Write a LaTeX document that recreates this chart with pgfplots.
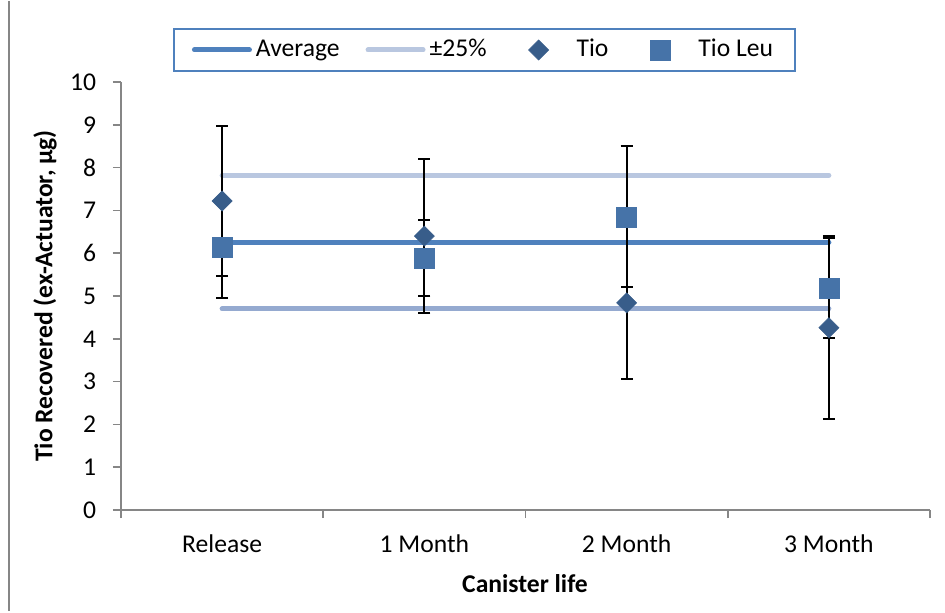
\documentclass[border=0pt]{standalone}
\usepackage{pgfplots}
\pgfplotsset{compat=1.18}
\usepackage{fontspec}
\setmainfont{Carlito}
\definecolor{avgc}{RGB}{79,129,189}
\definecolor{upc}{RGB}{185,199,224}
\definecolor{loc}{RGB}{149,170,208}
\definecolor{tioc}{RGB}{56,93,138}
\definecolor{leuc}{RGB}{70,115,168}
\definecolor{axc}{RGB}{134,134,134}
\newcommand{\cf}{\fontsize{12.8}{15.4}\selectfont}
\pgfplotsset{markleg/.style={legend image code/.code={\path[draw=none] (0pt,0pt) -- (30pt,0pt);\draw[##1, only marks] plot coordinates {(13pt,0pt)};}}}
\begin{document}
\cf
\begin{tikzpicture}
\path (-60.5pt,-50.5pt) rectangle (412pt,254.5pt);
\draw[axc, line width=1pt] (-56pt,-50.5pt) -- (-56pt,254.5pt);
\begin{axis}[
  name=ax,
  scale only axis,
  width=404.5pt, height=214pt,
  xmin=0, xmax=4, ymin=0, ymax=10,
  axis x line*=bottom, axis y line*=left,
  axis line style={axc, line width=0.8pt, -},
  every tick/.style={axc, line width=0.8pt},
  tick align=outside,
  major tick length=4pt,
  xtick={0,1,2,3,4},
  xticklabels={Release,1 Month,2 Month,3 Month},
  x tick label as interval,
  ytick={0,1,...,10},
  /pgf/number format/assume math mode=true,
  tick label style={font=\cf, black},
  yticklabel style={xshift=-4pt},
  xticklabel style={yshift=-4pt},
  xlabel={\textbf{Canister life}},
  ylabel={\textbf{Tio Recovered (ex-Actuator, µg)}},
  label style={font=\cf},
  xlabel style={at={(axis description cs:0.4994,-0.173)}, anchor=center},
  ylabel style={at={(axis description cs:-0.094,0.5)}, anchor=center},
  clip=false,
  legend columns=4,
  legend style={at={(axis description cs:0.4493,1.0748)}, anchor=center,
    draw=avgc, line width=0.8pt, inner xsep=9pt, inner ysep=3pt,
    font=\cf,
    /tikz/every even column/.append style={column sep=11pt}},
  legend cell align=left,
]
\addlegendimage{avgc, line width=2.5pt, line cap=round,
  legend image code/.code={\draw[avgc, line width=2.5pt, line cap=round] (0pt,0pt) -- (27.5pt,0pt);}}
\addlegendentry{Average}
\addlegendimage{upc, line width=2.5pt, line cap=round,
  legend image code/.code={\draw[upc, line width=2.5pt, line cap=round] (0pt,0pt) -- (27.5pt,0pt);}}
\addlegendentry{±25\%}
\addlegendimage{only marks, mark=square*, mark size=3.54pt,
  mark options={rotate=45, fill=tioc, draw=tioc, line width=0.3pt}, markleg}
\addlegendentry{Tio}
\addlegendimage{only marks, mark=square*, mark size=5pt,
  mark options={fill=leuc, draw=leuc, line width=0.3pt}, markleg}
\addlegendentry{Tio Leu}
\addplot[avgc, line width=2.5pt, line cap=round, forget plot]
  coordinates {(0.5,6.26) (3.5,6.26)};
\addplot[upc, line width=2.5pt, line cap=round, forget plot]
  coordinates {(0.5,7.82) (3.5,7.82)};
\addplot[loc, line width=2.5pt, line cap=round, forget plot]
  coordinates {(0.5,4.70) (3.5,4.70)};
\addplot[only marks, mark=square*, mark size=3.54pt, forget plot,
  mark options={rotate=45, fill=tioc, draw=tioc, line width=0.3pt},
  error bars/.cd, y dir=both, y explicit,
  error bar style={black, line width=1pt},
  error mark options={black, line width=1pt, mark size=3pt, rotate=90},
  ]
  table[x=x, y=y, y error=e] {
x y e
0.5 7.22 1.75
1.5 6.40 1.79
2.5 4.84 1.77
3.5 4.26 2.14
};
\addplot[only marks, mark=square*, mark size=5pt, forget plot,
  mark options={fill=leuc, draw=leuc, line width=0.3pt},
  error bars/.cd, y dir=both, y explicit,
  error bar style={black, line width=1pt},
  error mark options={black, line width=1pt, mark size=3pt, rotate=90},
  ]
  table[x=x, y=y, y error=e] {
x y e
0.5 6.13 1.17
1.5 5.89 0.89
2.5 6.85 1.65
3.5 5.18 1.17
};
\end{axis}
\end{tikzpicture}
\end{document}
